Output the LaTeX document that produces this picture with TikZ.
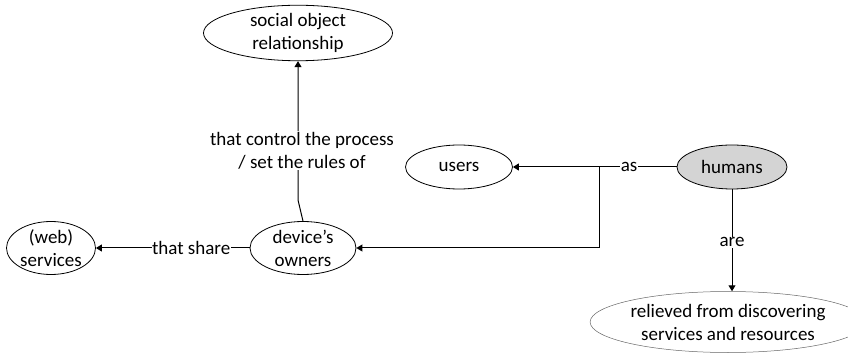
\documentclass[tikz,border=0pt]{standalone}
\usepackage{fontspec}
\setmainfont{Carlito}
\usetikzlibrary{shapes.geometric,arrows.meta}
\begin{document}
\begin{tikzpicture}[x=1pt,y=-1pt,
  every node/.style={font=\fontsize{19}{23}\selectfont, align=center},
  concept/.style={ellipse, draw, line width=0.8pt, inner sep=0pt},
  arr/.style={draw, line width=1pt, -{Triangle[length=6pt,width=7pt]}},
  lbl/.style={fill=white, inner sep=1pt}]
\useasboundingbox (0,0) rectangle (848,363);
\node[concept, minimum width=189pt, minimum height=52pt] (soc) at (298,33) {social object\\relationship};
\node[concept, minimum width=89pt, minimum height=53pt] (web) at (51,248) {(web)\\services};
\node[concept, minimum width=106pt, minimum height=53pt] (dev) at (303,248) {device’s\\owners};
\node[concept, minimum width=107pt, minimum height=44pt] (usr) at (459,167) {users};
\node[concept, fill=black!17, minimum width=110pt, minimum height=44pt] (hum) at (732,167) {humans};
\node[concept, draw=black!60, line width=0.5pt, minimum width=239pt, minimum height=61pt] (rel) at (728,322) {relieved from discovering\\services and resources};
\coordinate (k) at (298,200);
\coordinate (br) at (599,167);
\draw[arr] (hum.west) -- node[lbl, inner sep=0.5pt, pos=0.29] {as} (usr.east);
\draw[arr] (br) |- (dev.east);
\draw[arr] (hum.south) -- node[lbl, pos=0.52] {are} (hum.south |- rel.north);
\draw[arr] (dev.west) -- node[lbl, inner sep=0.5pt, pos=0.38] {that share} (web.east);
\draw[arr] (dev.north) -- (k) -- node[lbl, pos=0.355, xshift=4pt] {that control the process\\/ set the rules of} (soc.south);
\end{tikzpicture}
\end{document}
